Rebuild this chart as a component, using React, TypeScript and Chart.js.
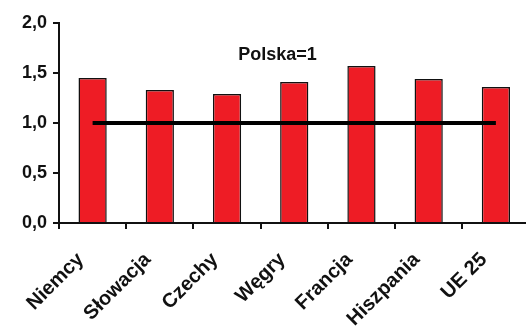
import React, { useEffect, useRef } from "react";
import { Chart, registerables } from "chart.js";

Chart.register(...registerables);

const categories = ["Niemcy", "Słowacja", "Czechy", "Węgry", "Francja", "Hiszpania", "UE 25"];
const values = [1.45, 1.33, 1.29, 1.41, 1.57, 1.44, 1.36];
const polskaLine = [1, 1, 1, 1, 1, 1, 1];
const yTicks = [0, 0.5, 1, 1.5, 2];
const annotationText = "Polska=1";

const FONT = "'Liberation Sans', Arial, sans-serif";

export default function App() {
  const ref = useRef<HTMLCanvasElement | null>(null);

  useEffect(() => {
    if (!ref.current) return;
    const textPlugin = {
      id: "polskaText",
      afterDatasetsDraw(chart: any) {
        const { ctx, scales } = chart;
        const x = scales.x.getPixelForValue(2.75);
        const y = scales.y.getPixelForValue(1.675);
        ctx.save();
        ctx.font = `bold 18px ${FONT}`;
        ctx.fillStyle = "#111";
        ctx.textAlign = "center";
        ctx.textBaseline = "middle";
        ctx.fillText(annotationText, x, y);
        ctx.restore();
      },
    };
    const chart = new Chart(ref.current, {
      type: "bar",
      data: {
        labels: categories,
        datasets: [
          {
            type: "line",
            data: polskaLine,
            borderColor: "#000",
            borderWidth: 4,
            pointRadius: 0,
            fill: false,
            order: 0,
          } as any,
          {
            type: "bar",
            data: values,
            backgroundColor: "#EE1C25",
            borderColor: "#111",
            borderWidth: 1.5,
            categoryPercentage: 1,
            barPercentage: 0.42,
            order: 1,
          },
        ],
      },
      options: {
        animation: false,
        responsive: false,
        maintainAspectRatio: false,
        layout: { padding: { left: 0, right: 2, top: 23, bottom: 0 } },
        plugins: {
          legend: { display: false },
          tooltip: { enabled: false },
        },
        scales: {
          x: {
            offset: true,
            grid: {
              offset: true,
              drawOnChartArea: false,
              drawTicks: true,
              tickLength: 6,
              color: "#111",
              lineWidth: 2,
            },
            border: { color: "#111", width: 2 },
            ticks: {
              maxRotation: 45,
              minRotation: 45,
              color: "#111",
              padding: 19,
              labelOffset: -12,
              font: { family: FONT, size: 20, weight: "bold" },
            },
            afterFit: (s: any) => {
              s.height = 106;
            },
          },
          y: {
            min: 0,
            max: 2,
            afterBuildTicks: (s: any) => {
              s.ticks = yTicks.map((v) => ({ value: v }));
            },
            grid: {
              drawOnChartArea: false,
              drawTicks: true,
              tickLength: 6,
              color: "#111",
              lineWidth: 2,
            },
            border: { color: "#111", width: 2 },
            ticks: {
              color: "#111",
              padding: 6,
              font: { family: FONT, size: 18, weight: "bold" },
              callback: (v: any) => Number(v).toFixed(1).replace(".", ","),
            },
            afterFit: (s: any) => {
              s.width = 59;
            },
          },
        },
      },
      plugins: [textPlugin],
    });
    return () => chart.destroy();
  }, []);

  return (
    <div
      style={{
        position: "fixed",
        left: 0,
        top: 0,
        width: 526,
        height: 329,
        overflow: "hidden",
        background: "#fff",
      }}
    >
      <canvas ref={ref} width={532} height={329} style={{ display: "block" }} />
    </div>
  );
}
